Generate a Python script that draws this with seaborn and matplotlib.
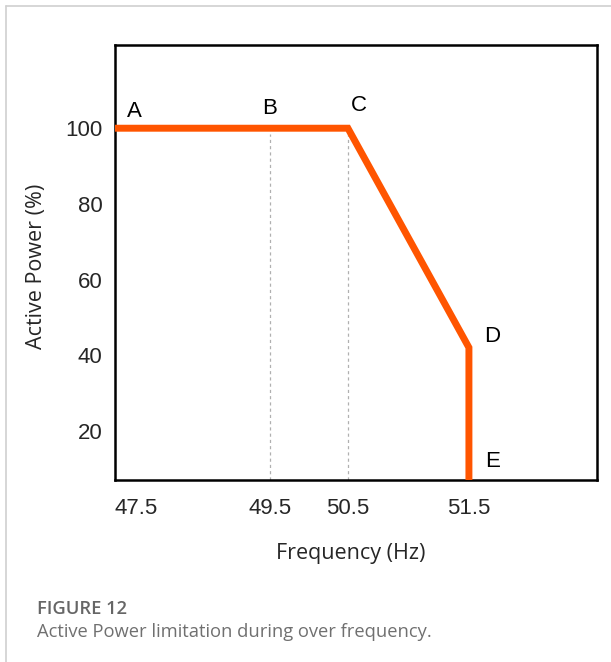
"""
Active power limitation during over frequency (schematic curve A-E).
"""

import numpy as np
import matplotlib
matplotlib.use('Agg')
import matplotlib.pyplot as plt
import seaborn as sns
from matplotlib.lines import Line2D

# curve points A..E
point_labels = ['A', 'B', 'C', 'D', 'E']
frequency = [47.5, 49.5, 50.5, 51.5, 51.5]
power = [100, 100, 100, 42, 0]

x_ticks = [47.5, 49.5, 50.5, 51.5]
y_ticks = [20, 40, 60, 80, 100]

# the schematic x axis is not linear: frequency -> relative position
axis_freq = [47.5, 49.5, 50.5, 51.5, 52.5]
axis_pos = [0, 155, 233, 354, 482]


def forward(x):
    return np.interp(x, axis_freq, axis_pos)


def inverse(p):
    return np.interp(p, axis_pos, axis_freq)


sns.set_style('white')
plt.rcParams['font.family'] = ['Liberation Sans', 'DejaVu Sans']

fig = plt.figure(figsize=(6.11, 6.62), dpi=100)
ax = fig.add_axes([0.188, 0.275, 0.789, 0.657])

ax.set_xscale('function', functions=(forward, inverse))
ax.set_xlim(47.5, 52.5)
ax.set_ylim(7, 122)

# guide lines under B and C
for f, p in zip(frequency[1:3], power[1:3]):
    ax.vlines(f, 7, p - 1.5, colors='#b0b0b0', linestyles=(0, (2.5, 2.5)), lw=0.9, zorder=1)

sns.lineplot(x=frequency, y=power, sort=False, estimator=None, color='#ff5500', lw=5,
             ax=ax, zorder=3)
ax.lines[-1].set_solid_joinstyle('miter')

# point labels
offsets = {'A': (14, 12), 'B': (0, 14), 'C': (8, 16), 'D': (17, 8), 'E': (17, 13)}
for lab, f, p in zip(point_labels, frequency, power):
    p_ = max(p, 7)
    ax.annotate(lab, (f, p_), xytext=offsets[lab], textcoords='offset points',
                ha='center', va='center', fontsize=16, color='black')

ax.set_xticks(x_ticks)
ax.set_xticklabels([str(v) for v in x_ticks], fontsize=16)
ax.get_xticklabels()[0].set_horizontalalignment('left')
ax.set_yticks(y_ticks)
ax.set_yticklabels([str(v) for v in y_ticks], fontsize=16)
ax.tick_params(axis='x', length=0, pad=13)
ax.tick_params(axis='y', length=0, pad=9)

for s in ax.spines.values():
    s.set_color('black')
    s.set_linewidth(1.8)

ax.set_xlabel('Frequency (Hz)', family=['Open Sans', 'DejaVu Sans'], fontsize=15.5,
              fontweight='medium')
ax.set_ylabel('Active Power (%)', family=['Open Sans', 'DejaVu Sans'], fontsize=15.5,
              fontweight='medium')
ax.xaxis.set_label_coords(0.49, -0.145)
ax.yaxis.set_label_coords(-0.14, 0.49)

# card border on the left and top
fig.add_artist(Line2D([6 / 611, 6 / 611], [0, 1 - 6 / 662], transform=fig.transFigure,
                      color='#d0d0d0', lw=1.2))
fig.add_artist(Line2D([6 / 611, 1], [1 - 6 / 662, 1 - 6 / 662], transform=fig.transFigure,
                      color='#d0d0d0', lw=1.2))

# caption
fig.text(37 / 611, 1 - 609 / 662, 'FIGURE 12', family=['Open Sans', 'DejaVu Sans'],
         fontsize=13.2, fontweight='semibold', color='#666666', va='center')
fig.text(37 / 611, 1 - 632 / 662, 'Active Power limitation during over frequency.',
         family=['Open Sans', 'DejaVu Sans'], fontsize=13.2, color='#707070', va='center')

fig.savefig('out.png', dpi=100)
